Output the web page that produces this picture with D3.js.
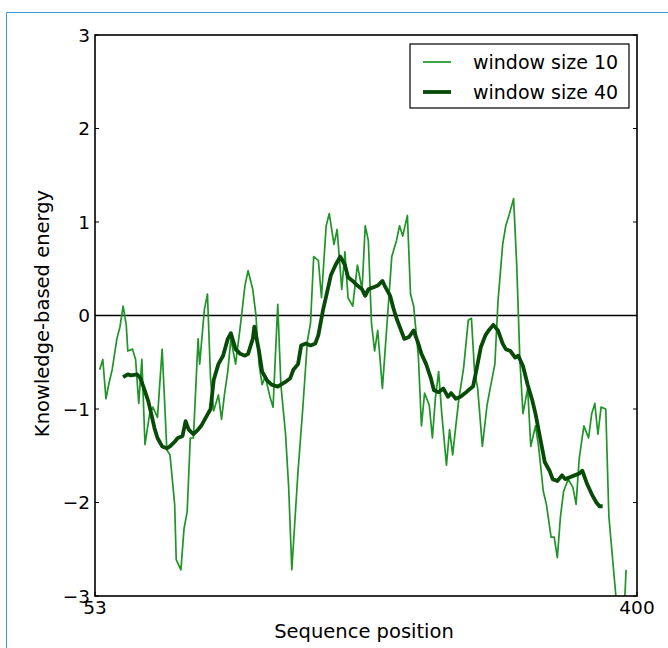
<!DOCTYPE html>
<html>
<head>
<meta charset="utf-8">
<script src="https://cdn.jsdelivr.net/npm/d3@7"></script>
<style>
  body { margin: 0; background: #fff; }
  svg { font-family: "DejaVu Sans", sans-serif; }
</style>
</head>
<body>
<div id="chart"></div>
<script>
// window size 10 (thin line)
const pos10 = [56,58,60,62,64,67,69,71,73,74,77,79,81,83,85,88,90,93,96,99,101,104,105,108,110,112,114,116,119,120,123,125,127,129,132,134,136,138,140,143,146,149,151,154,156,158,160,162,165,167,170,172,175,177,179,181,183,186,189,191,193,196,198,201,203,206,208,211,213,215,218,221,224,226,228,230,232,234,237,240,243,246,248,250,253,255,257,260,262,264,267,269,271,273,275,278,280,282,284,286,289,292,294,296,298,301,304,306,309,311,314,316,318,321,323,325,327,330,332,335,337,340,342,345,347,349,351,353,356,359,361,363,366,369,371,373,375,377,380,382,385,387,389,392,393];
const val10 = [-0.58,-0.47,-0.89,-0.72,-0.58,-0.25,-0.12,0.10,-0.10,-0.38,-0.36,-0.47,-0.94,-0.47,-1.38,-1.05,-0.98,-1.09,-0.36,-1.44,-1.49,-2.02,-2.61,-2.72,-2.28,-2.10,-1.31,-1.31,-0.25,-0.52,0.06,0.23,-0.69,-1.02,-0.85,-1.11,-0.83,-0.60,-0.25,-0.52,-0.12,0.32,0.48,0.28,0.01,-0.52,-0.74,-0.65,-0.87,-0.98,0.12,-0.74,-1.27,-1.84,-2.72,-2.19,-1.66,-1.00,-0.27,-0.08,0.63,0.59,0.19,0.96,1.09,0.76,0.92,0.28,0.68,0.19,0.10,0.54,0.28,0.96,0.80,-0.08,-0.38,-0.16,-0.78,-0.08,0.63,0.80,0.96,0.85,1.07,0.23,0.10,-0.43,-1.18,-0.83,-0.96,-1.31,-0.87,-0.60,-1.05,-1.60,-1.22,-1.49,-1.18,-0.89,-0.56,-0.05,-0.03,-0.60,-0.78,-1.40,-0.96,-0.78,-0.52,0.15,0.76,0.96,1.07,1.25,0.54,-0.47,-1.05,-0.78,-1.40,-1.18,-1.40,-1.88,-2.02,-2.37,-2.37,-2.59,-2.15,-1.88,-1.75,-1.84,-2.02,-1.53,-1.18,-1.31,-1.05,-0.94,-1.27,-0.98,-1.00,-2.15,-2.72,-3.10,-3.30,-3.10,-2.72];

// window size 40 (thick line)
const pos40 = [71,74,76,80,82,84,87,89,91,93,96,99,101,104,106,109,111,113,116,119,121,124,127,129,132,135,138,140,143,146,149,151,154,155,158,160,163,166,170,172,175,178,180,183,185,188,191,194,196,199,202,204,207,210,213,215,218,221,224,226,228,231,234,237,239,242,244,246,249,251,254,257,260,262,265,268,270,273,276,279,281,284,287,290,292,295,297,300,303,305,308,311,314,316,319,322,324,327,330,333,335,338,341,344,346,349,352,354,357,360,363,365,368,371,374,376,378];
const val40 = [-0.66,-0.63,-0.64,-0.63,-0.67,-0.76,-0.91,-1.05,-1.20,-1.31,-1.40,-1.42,-1.40,-1.35,-1.31,-1.29,-1.13,-1.22,-1.27,-1.22,-1.18,-1.09,-1.00,-0.69,-0.52,-0.43,-0.25,-0.19,-0.36,-0.41,-0.43,-0.41,-0.25,-0.12,-0.38,-0.60,-0.69,-0.74,-0.76,-0.74,-0.71,-0.67,-0.58,-0.52,-0.32,-0.30,-0.32,-0.30,-0.21,0.06,0.28,0.43,0.54,0.63,0.54,0.41,0.37,0.32,0.28,0.21,0.28,0.30,0.32,0.37,0.30,0.21,0.08,-0.03,-0.16,-0.25,-0.23,-0.16,-0.30,-0.41,-0.52,-0.67,-0.80,-0.82,-0.78,-0.87,-0.83,-0.89,-0.87,-0.83,-0.80,-0.76,-0.60,-0.34,-0.21,-0.16,-0.10,-0.16,-0.30,-0.36,-0.38,-0.45,-0.43,-0.54,-0.74,-0.91,-1.05,-1.31,-1.57,-1.66,-1.75,-1.77,-1.71,-1.75,-1.73,-1.71,-1.69,-1.66,-1.80,-1.91,-2.00,-2.04,-2.04];

const yTicks = [-3, -2, -1, 0, 1, 2, 3];
const xTicks = [53, 400];
const seriesNames = ["window size 10", "window size 40"];

const W = 668, H = 648;
const margin = {top: 35, right: 31, bottom: 52, left: 95};
const width = W - margin.left - margin.right;
const height = H - margin.top - margin.bottom;

const svg = d3.select("#chart").append("svg")
  .attr("width", W)
  .attr("height", H);

// light blue frame of the figure
svg.append("path")
  .attr("d", `M6.5,${H} V12.5 H${W}`)
  .attr("fill", "none")
  .attr("stroke", "#3d95d8")
  .attr("stroke-width", 1);

const g = svg.append("g")
  .attr("transform", `translate(${margin.left},${margin.top})`);

const x = d3.scaleLinear().domain([53, 400]).range([0, width]);
const y = d3.scaleLinear().domain([-3, 3]).range([height, 0]);

g.append("clipPath").attr("id", "clip")
  .append("rect").attr("width", width).attr("height", height);

// zero line
g.append("line")
  .attr("x1", 0).attr("x2", width)
  .attr("y1", y(0)).attr("y2", y(0))
  .attr("stroke", "#000").attr("stroke-width", 1.6);

const line = d3.line().x(d => x(d[0])).y(d => y(d[1]));

const data10 = pos10.map((p, i) => [p, val10[i]]);
const data40 = pos40.map((p, i) => [p, val40[i]]);

g.append("path")
  .datum(data10)
  .attr("clip-path", "url(#clip)")
  .attr("d", line)
  .attr("fill", "none")
  .attr("stroke", "#1f9427")
  .attr("stroke-width", 1.7)
  .attr("stroke-linejoin", "round");

g.append("path")
  .datum(data40)
  .attr("clip-path", "url(#clip)")
  .attr("d", line)
  .attr("fill", "none")
  .attr("stroke", "#084a08")
  .attr("stroke-width", 3.8)
  .attr("stroke-linejoin", "round");

// frame
g.append("rect")
  .attr("width", width).attr("height", height)
  .attr("fill", "none")
  .attr("stroke", "#000")
  .attr("stroke-width", 1.6);

// y ticks (inward, both sides) + labels
yTicks.forEach(t => {
  g.append("line").attr("x1", 0).attr("x2", 4)
    .attr("y1", y(t)).attr("y2", y(t)).attr("stroke", "#000");
  g.append("line").attr("x1", width).attr("x2", width - 4)
    .attr("y1", y(t)).attr("y2", y(t)).attr("stroke", "#000");
  g.append("text")
    .attr("x", -5).attr("y", y(t))
    .attr("dy", "0.36em")
    .attr("text-anchor", "end")
    .attr("font-size", 18.5)
    .text(t < 0 ? "\u2212" + Math.abs(t) : String(t));
});

// x ticks + labels
xTicks.forEach(t => {
  g.append("line").attr("x1", x(t)).attr("x2", x(t))
    .attr("y1", height).attr("y2", height - 4).attr("stroke", "#000");
  g.append("text")
    .attr("x", x(t)).attr("y", height + 18)
    .attr("text-anchor", "middle")
    .attr("font-size", 18.5)
    .text(t);
});

// axis labels
g.append("text")
  .attr("x", width / 2 - 2).attr("y", height + 42)
  .attr("text-anchor", "middle")
  .attr("font-size", 19.5)
  .text("Sequence position");

g.append("text")
  .attr("transform", `translate(-46,${height / 2 - 2}) rotate(-90)`)
  .attr("text-anchor", "middle")
  .attr("font-size", 19.5)
  .text("Knowledge-based energy");

// legend
const legend = svg.append("g").attr("transform", "translate(410,44)");
legend.append("rect")
  .attr("width", 219).attr("height", 64)
  .attr("fill", "#fff")
  .attr("stroke", "#000")
  .attr("stroke-width", 1.2);

const legendStyle = [{c: "#1f9427", w: 1.7}, {c: "#084a08", w: 3.8}];
seriesNames.forEach((name, i) => {
  const ly = 18 + i * 30;
  legend.append("line")
    .attr("x1", 13).attr("x2", 41)
    .attr("y1", ly).attr("y2", ly)
    .attr("stroke", legendStyle[i].c)
    .attr("stroke-width", legendStyle[i].w);
  legend.append("text")
    .attr("x", 63).attr("y", ly)
    .attr("dy", "0.35em")
    .attr("font-size", 19)
    .text(name);
});
</script>
</body>
</html>
